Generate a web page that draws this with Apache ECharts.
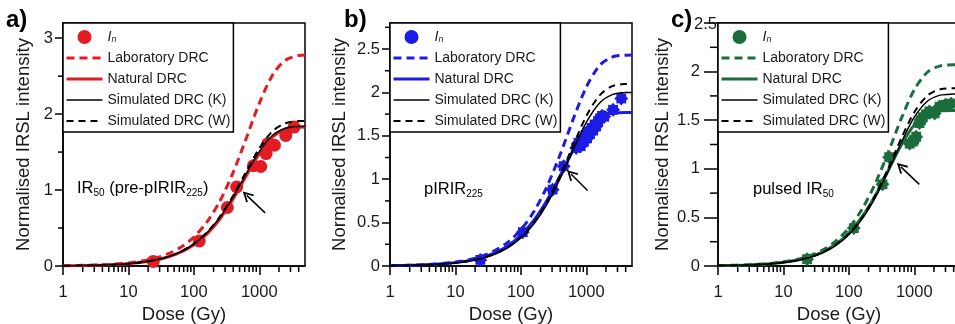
<!DOCTYPE html>
<html>
<head>
<meta charset="utf-8">
<script src="https://cdn.jsdelivr.net/npm/echarts@6/dist/echarts.min.js"></script>
<style>
  html, body { margin: 0; padding: 0; background: #fff; }
  #chart { width: 955px; height: 324px; }
</style>
</head>
<body>
<div id="chart"></div>
<script>
// Doses (Gy) at which the growth curves are tabulated (about 0.2 decade apart)
const curveDose = [1, 1.6, 2.5, 4, 6.3, 10, 16, 25, 40, 63, 100, 160, 250, 400, 630, 1000, 1600, 2500, 4000, 5000];

// Dose-axis tick labels and minor ticks
const doseLabels = [1, 10, 100, 1000];
const doseMinor = [2, 3, 4, 5, 6, 7, 8, 9, 20, 30, 40, 50, 60, 70, 80, 90,
                   200, 300, 400, 500, 600, 700, 800, 900, 2000, 3000, 4000];

// a) IR50 (pre-pIRIR225)
const aInDose   = [24, 121, 325, 452, 813, 1054, 1271, 1350, 1706, 2540, 3410];
const aInSignal = [0.06, 0.33, 0.77, 1.04, 1.32, 1.31, 1.48, 1.61, 1.59, 1.72, 1.83];
const aLab  = [0.004, 0.007, 0.010, 0.016, 0.026, 0.041, 0.065, 0.100, 0.159, 0.246, 0.380, 0.583, 0.855, 1.236, 1.679, 2.141, 2.516, 2.710, 2.772, 2.778];
const aNat  = [0.003, 0.005, 0.008, 0.012, 0.019, 0.030, 0.048, 0.074, 0.117, 0.181, 0.279, 0.425, 0.619, 0.885, 1.184, 1.480, 1.700, 1.801, 1.828, 1.830];
const aSimK = [0.003, 0.005, 0.008, 0.013, 0.020, 0.031, 0.050, 0.077, 0.122, 0.188, 0.289, 0.440, 0.640, 0.911, 1.213, 1.507, 1.721, 1.814, 1.838, 1.840];
const aSimW = [0.003, 0.005, 0.008, 0.013, 0.020, 0.032, 0.050, 0.078, 0.123, 0.190, 0.293, 0.447, 0.651, 0.929, 1.242, 1.549, 1.777, 1.880, 1.908, 1.910];
const aYTicks = [0, 1, 2, 3];
const aYMinor = [0.5, 1.5, 2.5];

// b) pIRIR225
const bInDose   = [24, 107, 306, 451, 700, 760, 820, 870, 920, 980, 1030, 1080, 1140, 1200, 1270, 1340, 1420, 1520, 1620, 1740, 1880, 2570, 3430];
const bInSignal = [0.07, 0.39, 0.88, 1.15, 1.36, 1.42, 1.38, 1.46, 1.43, 1.51, 1.47, 1.55, 1.52, 1.59, 1.56, 1.63, 1.61, 1.67, 1.70, 1.73, 1.72, 1.80, 1.93];
const bLab  = [0.005, 0.007, 0.011, 0.018, 0.029, 0.045, 0.072, 0.112, 0.177, 0.272, 0.418, 0.633, 0.914, 1.287, 1.690, 2.062, 2.311, 2.408, 2.429, 2.430];
const bNat  = [0.004, 0.006, 0.010, 0.016, 0.025, 0.039, 0.062, 0.096, 0.151, 0.231, 0.353, 0.530, 0.754, 1.042, 1.334, 1.578, 1.719, 1.763, 1.770, 1.770];
const bSimK = [0.004, 0.006, 0.009, 0.014, 0.022, 0.035, 0.055, 0.086, 0.136, 0.209, 0.322, 0.489, 0.710, 1.009, 1.338, 1.654, 1.879, 1.975, 1.998, 2.000];
const bSimW = [0.004, 0.006, 0.009, 0.014, 0.023, 0.036, 0.057, 0.089, 0.140, 0.216, 0.333, 0.506, 0.735, 1.046, 1.391, 1.726, 1.967, 2.072, 2.098, 2.100];
const bYTicks = [0, 0.5, 1, 1.5, 2, 2.5];
const bYMinor = [0.25, 0.75, 1.25, 1.75, 2.25, 2.75];

// c) pulsed IR50
const cInDose   = [23, 119, 327, 413, 850, 950, 1000, 1070, 1200, 1250, 1350, 1500, 1700, 2050, 2430, 3000, 3670];
const cInSignal = [0.07, 0.39, 0.84, 1.12, 1.26, 1.28, 1.30, 1.33, 1.47, 1.50, 1.53, 1.56, 1.59, 1.57, 1.64, 1.66, 1.67];
const cLab  = [0.004, 0.007, 0.011, 0.017, 0.027, 0.043, 0.068, 0.105, 0.165, 0.255, 0.389, 0.587, 0.840, 1.170, 1.513, 1.812, 1.996, 2.059, 2.070, 2.070];
const cNat  = [0.004, 0.006, 0.009, 0.015, 0.024, 0.038, 0.060, 0.092, 0.145, 0.223, 0.339, 0.507, 0.718, 0.983, 1.243, 1.452, 1.564, 1.596, 1.600, 1.600];
const cSimK = [0.004, 0.006, 0.009, 0.014, 0.022, 0.035, 0.056, 0.086, 0.136, 0.210, 0.321, 0.485, 0.696, 0.975, 1.268, 1.531, 1.698, 1.758, 1.769, 1.770];
const cSimW = [0.004, 0.006, 0.009, 0.015, 0.023, 0.036, 0.058, 0.089, 0.141, 0.217, 0.332, 0.501, 0.720, 1.008, 1.311, 1.582, 1.755, 1.818, 1.829, 1.830];
const cYTicks = [0, 0.5, 1, 1.5, 2, 2.5];
const cYLabels = [0, 0.5, 1, 1.5, 2];
const cYMinor = [0.25, 0.75, 1.25, 1.75, 2.25];

// Arrows pointing at the natural curve: [dose, intensity] tail and head
const aArrow = [[1228, 0.70], [644, 0.93]];
const bArrow = [[1047, 0.87], [584, 1.06]];
const cArrow = [[1194, 0.84], [624, 1.02]];

const FONT = '"Liberation Sans", Arial, sans-serif';
const INK = '#1a1a1a';
const RED = '#e31b23';
const BLUE = '#1c1ce6';
const GREEN = '#1b6d3e';
const BURST = 'path://M20,10 L16.93,12.87 L17.07,17.07 L12.87,16.93 L10,20 L7.13,16.93 L2.93,17.07 L3.07,12.87 L0,10 L3.07,7.13 L2.93,2.93 L7.13,3.07 L10,0 L12.87,3.07 L17.07,2.93 L16.93,7.13 Z';
const CHEVRON = 'path://M5,0 L10,8.6 L8.7,9.6 L5,3.2 L1.3,9.6 L0,8.6 Z';

// line widths shared by the curves and their legend keys
const LAB_W = 3, NAT_W = 3, SIMK_W = 1.5, SIMW_W = 2;
const LAB_DASH = [8, 5], SIMW_DASH = [7, 5];

const panels = [
  { key: 'a', left: 63, yMax: 3.2, yTicks: aYTicks, yLabels: aYTicks, yMinor: aYMinor,
    tickLen: 8, minorLen: 5, labelMargin: 10, nameGap: 30,
    color: RED, symbol: 'circle', symbolSize: 13,
    inDose: aInDose, inSignal: aInSignal, lab: aLab, nat: aNat, simK: aSimK, simW: aSimW, arrow: aArrow },
  { key: 'b', left: 390, yMax: 2.8, yTicks: bYTicks, yLabels: bYTicks, yMinor: bYMinor,
    tickLen: 8, minorLen: 5, labelMargin: 10, nameGap: 41,
    color: BLUE, symbol: BURST, symbolSize: 14,
    inDose: bInDose, inSignal: bInSignal, lab: bLab, nat: bNat, simK: bSimK, simW: bSimW, arrow: bArrow },
  { key: 'c', left: 718, yMax: 2.5, yTicks: cYTicks, yLabels: cYLabels, yMinor: cYMinor,
    tickLen: 14, minorLen: 8, labelMargin: 18, nameGap: 46,
    color: GREEN, symbol: BURST, symbolSize: 14,
    inDose: cInDose, inSignal: cInSignal, lab: cLab, nat: cNat, simK: cSimK, simW: cSimW, arrow: cArrow }
];

const pairs = (xs, ys) => xs.map((x, i) => [x, ys[i]]);
const tickStyle = { color: '#000', width: 1.5 };

const grid = [], xAxis = [], yAxis = [], series = [], legend = [];

panels.forEach((p, i) => {
  grid.push({ left: p.left, top: 23, width: 242, height: 243, show: true,
              outerBoundsMode: 'none', containLabel: false,
              borderColor: '#000', borderWidth: 1.5, backgroundColor: 'transparent' });

  xAxis.push({
    type: 'log', logBase: 10, gridIndex: i, min: 1, max: 5000,
    axisLine: { show: true, onZero: false, lineStyle: tickStyle },
    axisTick: { show: true, length: 9, lineStyle: tickStyle },
    axisLabel: { margin: 18, fontSize: 16.5, color: INK, fontFamily: FONT,
                 showMaxLabel: false,
                 formatter: v => doseLabels.includes(Math.round(v)) ? String(Math.round(v)) : '' },
    splitLine: { show: false },
    name: 'Dose (Gy)', nameLocation: 'middle', nameGap: 38,
    nameTextStyle: { fontSize: 18.5, color: INK, fontFamily: FONT }
  });

  yAxis.push({
    type: 'value', gridIndex: i, min: 0, max: p.yMax,
    axisLine: { show: true, onZero: false, lineStyle: tickStyle },
    axisTick: { show: true, length: p.tickLen, customValues: p.yTicks, lineStyle: tickStyle },
    axisLabel: { customValues: p.yLabels, margin: p.labelMargin, fontSize: 16.5, color: INK, fontFamily: FONT },
    splitLine: { show: false },
    name: 'Normalised IRSL intensity', nameLocation: 'middle', nameGap: p.nameGap,
    nameTextStyle: { fontSize: 18.5, color: INK, fontFamily: FONT }
  });

  const base = { xAxisIndex: i, yAxisIndex: i, symbol: 'none', silent: true, smooth: 0.3 };

  series.push({ ...base, type: 'line', name: p.key + ':Laboratory DRC',
    data: pairs(curveDose, p.lab),
    itemStyle: { color: p.color },
    lineStyle: { color: p.color, width: LAB_W, type: LAB_DASH } });

  series.push({ ...base, type: 'line', name: p.key + ':Natural DRC',
    data: pairs(curveDose, p.nat),
    itemStyle: { color: p.color },
    lineStyle: { color: p.color, width: NAT_W } });

  series.push({ type: 'scatter', name: p.key + ':In', xAxisIndex: i, yAxisIndex: i, silent: true,
    symbol: p.symbol, symbolSize: p.symbolSize,
    data: pairs(p.inDose, p.inSignal),
    itemStyle: { color: p.color, opacity: 1 } });

  series.push({ ...base, type: 'line', name: p.key + ':Simulated DRC (K)',
    data: pairs(curveDose, p.simK),
    itemStyle: { color: '#000' },
    lineStyle: { color: '#000', width: SIMK_W },
    markLine: {
      silent: true, symbol: ['none', CHEVRON], symbolSize: 11,
      label: { show: false }, emphasis: { disabled: true },
      lineStyle: { color: '#000', width: 1.5, type: 'solid' },
      data: [[{ coord: p.arrow[0] }, { coord: p.arrow[1] }]]
    } });

  series.push({ ...base, type: 'line', name: p.key + ':Simulated DRC (W)',
    data: pairs(curveDose, p.simW),
    itemStyle: { color: '#000' },
    lineStyle: { color: '#000', width: SIMW_W, type: SIMW_DASH } });

  // minor ticks of the log dose axis
  series.push({ type: 'custom', name: p.key + ':xminor', xAxisIndex: i, yAxisIndex: i,
    silent: true, clip: false,
    data: doseMinor.map(v => [v, 0]),
    renderItem: (params, api) => {
      const pt = api.coord([api.value(0), api.value(1)]);
      return { type: 'line', shape: { x1: pt[0], y1: pt[1], x2: pt[0], y2: pt[1] + 6 },
               style: { stroke: '#000', lineWidth: 1.5 } };
    } });

  // minor ticks of the intensity axis
  series.push({ type: 'custom', name: p.key + ':yminor', xAxisIndex: i, yAxisIndex: i,
    silent: true, clip: false,
    data: p.yMinor.map(v => [1, v]),
    renderItem: (params, api) => {
      const pt = api.coord([api.value(0), api.value(1)]);
      return { type: 'line', shape: { x1: pt[0] - p.minorLen, y1: pt[1], x2: pt[0], y2: pt[1] },
               style: { stroke: '#000', lineWidth: 1.5 } };
    } });

  legend.push({
    left: p.left, top: 23, orient: 'vertical', selectedMode: false,
    itemWidth: 36, itemHeight: 14, itemGap: 7, padding: [7, 3, 4, 2],
    borderColor: '#000', borderWidth: 1.5, backgroundColor: '#fff', borderRadius: 0,
    itemStyle: { opacity: 0 },
    textStyle: { fontSize: 14, lineHeight: 14, color: INK, fontFamily: FONT,
      rich: {
        i: { fontSize: 14, lineHeight: 14, fontStyle: 'italic', fontFamily: FONT, color: INK },
        s: { fontSize: 9, fontStyle: 'italic', fontFamily: FONT, color: INK,
             verticalAlign: 'bottom', lineHeight: 6 }
      } },
    data: [
      { name: p.key + ':In', icon: 'circle', itemStyle: { opacity: 1 } },
      { name: p.key + ':Laboratory DRC', lineStyle: { width: LAB_W, type: LAB_DASH } },
      { name: p.key + ':Natural DRC', lineStyle: { width: NAT_W } },
      { name: p.key + ':Simulated DRC (K)', lineStyle: { width: SIMK_W } },
      { name: p.key + ':Simulated DRC (W)', lineStyle: { width: SIMW_W, type: SIMW_DASH } }
    ],
    formatter: name => {
      const label = name.slice(2);
      return label === 'In' ? '{i|I}{s|n}' : label;
    }
  });
});

const annRich = {
  m: { fontSize: 16.5, fontFamily: FONT, color: INK, lineHeight: 20 },
  s: { fontSize: 10, fontFamily: FONT, color: INK, verticalAlign: 'bottom', lineHeight: 8 }
};
const panelLabelFont = 'bold 24px ' + FONT;

const graphic = [
  { type: 'text', x: 6, y: 8, style: { text: 'a)', font: panelLabelFont, fill: '#000' } },
  { type: 'text', x: 344, y: 8, style: { text: 'b)', font: panelLabelFont, fill: '#000' } },
  { type: 'text', x: 671, y: 8, style: { text: 'c)', font: panelLabelFont, fill: '#000' } },
  { type: 'text', x: 717, y: 24, style: { text: '2.5', font: '16.5px ' + FONT, fill: INK,
      align: 'right', verticalAlign: 'middle' } },
  { type: 'text', x: 77, y: 188, style: { text: '{m|IR}{s|50}{m| (pre-pIRIR}{s|225}{m|)}',
      rich: annRich, verticalAlign: 'middle' } },
  { type: 'text', x: 424, y: 189, style: { text: '{m|pIRIR}{s|225}',
      rich: annRich, verticalAlign: 'middle' } },
  { type: 'text', x: 753, y: 189, style: { text: '{m|pulsed IR}{s|50}',
      rich: annRich, verticalAlign: 'middle' } }
];

const chart = echarts.init(document.getElementById('chart'));
chart.setOption({
  animation: false,
  backgroundColor: '#fff',
  textStyle: { fontFamily: FONT },
  grid, xAxis, yAxis, series, legend, graphic
});
</script>
</body>
</html>
